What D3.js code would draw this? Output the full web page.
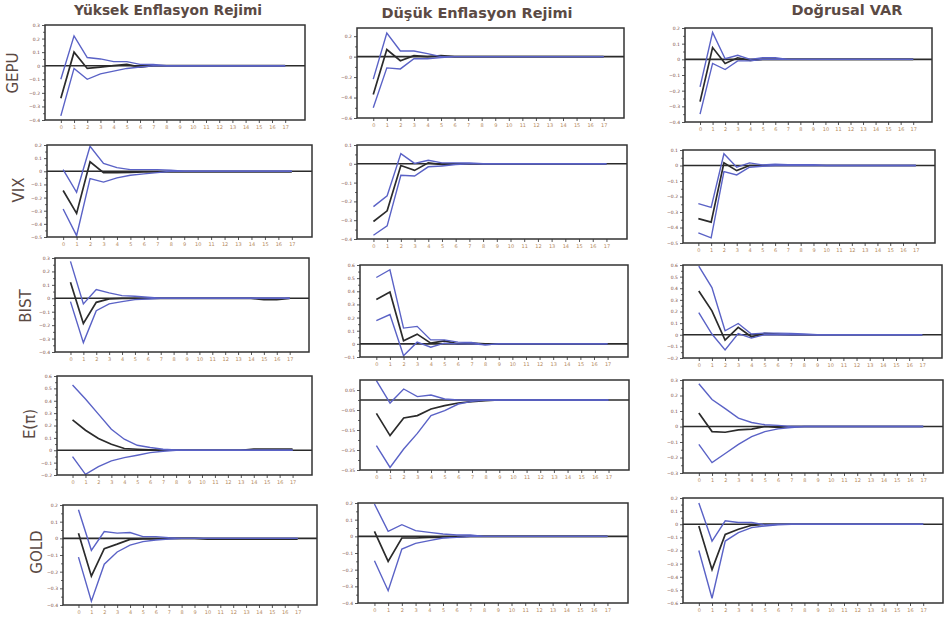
<!DOCTYPE html>
<html>
<head>
<meta charset="utf-8">
<script src="https://cdn.jsdelivr.net/npm/d3@7"></script>
<style>
  body { margin: 0; background: #fff; }
  text { font-family: "DejaVu Sans", sans-serif; }
</style>
</head>
<body>
<svg id="chart" width="945" height="623"></svg>
<script>
// horizons 0..17
const horizons = [0,1,2,3,4,5,6,7,8,9,10,11,12,13,14,15,16,17];
const colTitles = ["Yüksek Enflasyon Rejimi", "Düşük Enflasyon Rejimi", "Doğrusal VAR"];
const rowLabels = ["GEPU", "VIX", "BIST", "E(π)", "GOLD"];

// each panel: [lower band, response, upper band]
const gepuYuksek = [
  [-0.37,-0.02,-0.10,-0.06,-0.04,-0.02,-0.01,0,0,0,0,0,0,0,0,0,0,0],
  [-0.24,0.10,-0.02,-0.01,0,0.01,-0.01,0,0,0,0,0,0,0,0,0,0,0],
  [-0.10,0.22,0.06,0.05,0.03,0.03,0.01,0.01,0,0,0,0,0,0,0,0,0,0]
];
const gepuDusuk = [
  [-0.50,-0.11,-0.12,-0.02,-0.02,-0.01,0,0,0,0,0,0,0,0,0,0,0,0],
  [-0.37,0.07,-0.04,0.01,0,0.01,0,0,0,0,0,0,0,0,0,0,0,0],
  [-0.22,0.23,0.055,0.055,0.03,0,0,0,0,0,0,0,0,0,0,0,0,0]
];
const gepuDogrusal = [
  [-0.35,-0.026,-0.065,-0.01,-0.01,0,0,0,0,0,0,0,0,0,0,0,0,0],
  [-0.27,0.075,-0.026,0.01,-0.006,0,0,0,0,0,0,0,0,0,0,0,0,0],
  [-0.176,0.172,0.004,0.026,0,0.01,0.01,0,0,0,0,0,0,0,0,0,0,0]
];
const vixYuksek = [
  [-0.287,-0.49,-0.056,-0.082,-0.05,-0.03,-0.02,-0.01,0,0,0,0,0,0,0,0,0,0],
  [-0.146,-0.32,0.072,-0.01,-0.01,-0.008,-0.005,-0.005,-0.005,-0.005,-0.005,-0.005,-0.005,-0.005,-0.005,-0.005,-0.005,-0.005],
  [0.013,-0.16,0.19,0.06,0.028,0.013,0.013,0.013,0.008,0,0,0,0,0,0,0,0,0]
];
const vixDusuk = [
  [-0.38,-0.33,-0.061,-0.065,-0.016,-0.012,-0.004,0,0,0,0,0,0,0,0,0,0,0],
  [-0.307,-0.25,-0.009,-0.035,0.005,-0.004,0,0,0,0,0,0,0,0,0,0,0,0],
  [-0.228,-0.17,0.054,0.002,0.019,0.005,0.005,0.005,0,0,0,0,0,0,0,0,0,0]
];
const vixDogrusal = [
  [-0.435,-0.467,-0.039,-0.061,-0.011,-0.005,0,0,0,0,0,0,0,0,0,0,0,0],
  [-0.343,-0.365,0.017,-0.033,0,0,0,0,0,0,0,0,0,0,0,0,0,0],
  [-0.246,-0.27,0.076,-0.011,0.017,0.004,0.009,0.005,0.005,0.005,0,0,0,0,0,0,0,0]
];
const bistYuksek = [
  [-0.025,-0.33,-0.092,-0.042,-0.025,-0.01,-0.005,0,0,0,0,0,0,0,0,0,0,0],
  [0.12,-0.187,-0.03,-0.005,0,0,0,0,0,0,0,0,0,0,0,-0.01,-0.01,0],
  [0.275,-0.042,0.065,0.04,0.02,0.015,0.008,0,0,0,0,0,0,0,0,0,0,0]
];
const bistDusuk = [
  [0.177,0.223,-0.09,0.013,-0.026,0.005,0,0,-0.008,0,0,0,0,0,0,0,0,0],
  [0.338,0.395,0.023,0.074,0.005,0.023,0,0.005,0,0,0,0,0,0,0,0,0,0],
  [0.505,0.564,0.12,0.133,0.03,0.03,0.013,0.01,-0.008,0,0,0,0,0,0,0,0,0]
];
const bistDogrusal = [
  [0.191,0.006,-0.131,0.011,-0.029,0,0,0,0,0,0,0,0,0,0,0,0,0],
  [0.377,0.206,-0.046,0.063,-0.017,0.011,0.006,0,0,0,0,0,0,0,0,0,0,0],
  [0.59,0.406,0.034,0.097,0.006,0.014,0.014,0.012,0.006,0,0,0,0,0,0,0,0,0]
];
const enfYuksek = [
  [-0.051,-0.195,-0.132,-0.086,-0.06,-0.04,-0.019,-0.008,0,0,0,0,0,0,0,0,0,0],
  [0.246,0.162,0.095,0.049,0.014,0.008,0.003,0,0,0,0,0,0,0,0.01,0.01,0.01,0.01],
  [0.527,0.414,0.292,0.17,0.089,0.04,0.022,0.008,0.003,0,0,0,0,0,0,0,0,0]
];
const enfDusuk = [
  [-0.228,-0.337,-0.245,-0.167,-0.078,-0.053,-0.02,-0.007,0,0,0,0,0,0,0,0,0,0],
  [-0.067,-0.178,-0.09,-0.078,-0.045,-0.028,-0.015,-0.008,-0.003,0,0,0,0,0,0,0,0,0],
  [0.097,-0.015,0.055,0.017,0.025,0.005,0,0,0,0,0,0,0,0,0,0,0,0]
];
const enfDogrusal = [
  [-0.115,-0.233,-0.174,-0.115,-0.065,-0.033,-0.015,-0.006,0,0,0,0,0,0,0,0,0,0],
  [0.087,-0.033,-0.037,-0.022,-0.017,0,-0.005,0,0,0,0,0,0,0,0,0,0,0],
  [0.276,0.174,0.115,0.054,0.026,0.011,0.007,0,0,0,0,0,0,0,0,0,0,0]
];
const goldYuksek = [
  [-0.113,-0.377,-0.155,-0.082,-0.041,-0.02,-0.01,-0.004,0,0,0,0,0,0,0,0,0,0],
  [0.031,-0.227,-0.062,-0.035,-0.006,-0.004,-0.004,0,0,0,-0.005,-0.005,-0.005,-0.005,-0.005,-0.005,-0.005,-0.005],
  [0.171,-0.072,0.041,0.031,0.035,0.01,0.01,0.004,0,0,0,0,0,0,0,0,0,0]
];
const goldDusuk = [
  [-0.146,-0.326,-0.076,-0.042,-0.026,-0.01,-0.006,0,0,0,0,0,0,0,0,0,0,0],
  [0.03,-0.15,-0.01,-0.01,-0.006,-0.006,-0.003,0,0,0,0,0,0,0,0,0,0,0],
  [0.194,0.03,0.07,0.034,0.024,0.014,0.008,0.008,0,0,0,0,0,0,0,0,0,0]
];
const goldDogrusal = [
  [-0.2,-0.564,-0.128,-0.064,-0.026,-0.013,-0.005,0,0,0,0,0,0,0,0,0,0,0],
  [-0.013,-0.346,-0.077,-0.038,-0.008,0,0,0,0,0,0,0,0,0,0,0,0,0],
  [0.162,-0.128,0.026,0.013,0.013,-0.005,0,0,0,0,0,0,0,0,0,0,0,0]
];

// y domains and tick labels, row-major
const yDomains = [
  [-0.4,0.3], [-0.6,0.28], [-0.4,0.2],
  [-0.5,0.2], [-0.4,0.1], [-0.5,0.1],
  [-0.4,0.3], [-0.1,0.6], [-0.2,0.6],
  [-0.2,0.6], [-0.35,0.1], [-0.3,0.3],
  [-0.4,0.2], [-0.4,0.2], [-0.6,0.2]
];
const yTicks = [
  [0.3,0.2,0.1,0,-0.1,-0.2,-0.3,-0.4], [0.2,0,-0.2,-0.4,-0.6], [0.2,0.1,0,-0.1,-0.2,-0.3,-0.4],
  [0.2,0.1,0,-0.1,-0.2,-0.3,-0.4,-0.5], [0.1,0,-0.1,-0.2,-0.3,-0.4], [0.1,0,-0.1,-0.2,-0.3,-0.4,-0.5],
  [0.3,0.2,0.1,0,-0.1,-0.2,-0.3,-0.4], [0.6,0.5,0.4,0.3,0.2,0.1,0,-0.1], [0.6,0.5,0.4,0.3,0.2,0.1,0,-0.1,-0.2],
  [0.6,0.5,0.4,0.3,0.2,0.1,0,-0.1,-0.2], [0.05,-0.05,-0.15,-0.25,-0.35], [0.3,0.2,0.1,0,-0.1,-0.2,-0.3],
  [0.2,0.1,0,-0.1,-0.2,-0.3,-0.4], [0.2,0.1,0,-0.1,-0.2,-0.3,-0.4], [0.2,0.1,0,-0.1,-0.2,-0.3,-0.4,-0.5,-0.6]
];

const series = [
  gepuYuksek, gepuDusuk, gepuDogrusal,
  vixYuksek, vixDusuk, vixDogrusal,
  bistYuksek, bistDusuk, bistDogrusal,
  enfYuksek, enfDusuk, enfDogrusal,
  goldYuksek, goldDusuk, goldDogrusal
];

// panel frames [left, top, right, bottom], row-major
const frames = [
  [45,25,305,120], [357,28,624,118], [685,28,932,122],
  [47,145,312,237], [357,145,627,239], [683,150,935,243],
  [55,258,309,352], [360,265,628,357], [683,265,942,358],
  [57,376,312,475], [360,380,629,470], [683,380,943,473],
  [63,505,317,605], [358,503,628,603], [683,498,943,603]
];

const blue = "#5a62c6";
const dark = "#2b2b2b";
const labelCol = "#5b4a44";

const svg = d3.select("#chart");

series.forEach((s, i) => {
  const [x0, y0, x1, y1] = frames[i];
  const x = d3.scaleLinear().domain([-1.2, 18.5]).range([x0, x1]);
  const y = d3.scaleLinear().domain(yDomains[i]).range([y1, y0]);
  const g = svg.append("g");

  // x axis
  const xa = g.append("g")
    .attr("transform", `translate(0,${y1})`)
    .call(d3.axisBottom(x).tickValues(horizons).tickSize(3).tickPadding(2).tickFormat(d3.format("d")));
  xa.select(".domain").remove();
  xa.selectAll("line").attr("stroke", "#555");
  xa.selectAll("text").attr("font-size", 5).attr("fill", "#b58a5c");

  // y axis, with minor ticks halfway
  const tk = yTicks[i];
  const step = Math.abs(tk[0] - tk[1]);
  const minor = tk.map(v => v - step / 2).filter(v => v > yDomains[i][0]);
  const ym = g.append("g")
    .attr("transform", `translate(${x0},0)`)
    .call(d3.axisLeft(y).tickValues(minor).tickSize(2).tickFormat(""));
  ym.select(".domain").remove();
  ym.selectAll("line").attr("stroke", "#666");
  const ya = g.append("g")
    .attr("transform", `translate(${x0},0)`)
    .call(d3.axisLeft(y).tickValues(tk).tickSize(3).tickPadding(2).tickFormat(d3.format(".2~f")));
  ya.select(".domain").remove();
  ya.selectAll("line").attr("stroke", "#555");
  ya.selectAll("text").attr("font-size", 4.5).attr("fill", "#7a4a40");

  // zero line
  g.append("line")
    .attr("x1", x0).attr("x2", x1)
    .attr("y1", y(0)).attr("y2", y(0))
    .attr("stroke", dark).attr("stroke-width", 1.6);

  const line = d3.line().x((d, j) => x(horizons[j])).y(d => y(d));
  g.append("path").datum(s[1]).attr("d", line)
    .attr("fill", "none").attr("stroke", dark).attr("stroke-width", 1.7);
  [s[0], s[2]].forEach(b => {
    g.append("path").datum(b).attr("d", line)
      .attr("fill", "none").attr("stroke", blue).attr("stroke-width", 1.4);
  });

  // frame
  g.append("rect")
    .attr("x", x0).attr("y", y0)
    .attr("width", x1 - x0).attr("height", y1 - y0)
    .attr("fill", "none").attr("stroke", "#333").attr("stroke-width", 1.5);
});

// column titles
const titlePos = [[168, 15], [477, 18], [847, 15]];
const titleSize = [13.8, 14.5, 14.5];
colTitles.forEach((t, i) => {
  svg.append("text")
    .attr("x", titlePos[i][0]).attr("y", titlePos[i][1])
    .attr("text-anchor", "middle")
    .attr("font-size", titleSize[i]).attr("font-weight", "bold")
    .attr("fill", labelCol)
    .text(t);
});

// row labels
const rowPos = [[18, 73], [24, 190], [31, 306], [35, 424], [42, 552]];
rowLabels.forEach((t, i) => {
  svg.append("text")
    .attr("transform", `translate(${rowPos[i][0]},${rowPos[i][1]}) rotate(-90)`)
    .attr("text-anchor", "middle")
    .attr("font-size", 15)
    .attr("fill", labelCol)
    .text(t);
});
</script>
</body>
</html>
